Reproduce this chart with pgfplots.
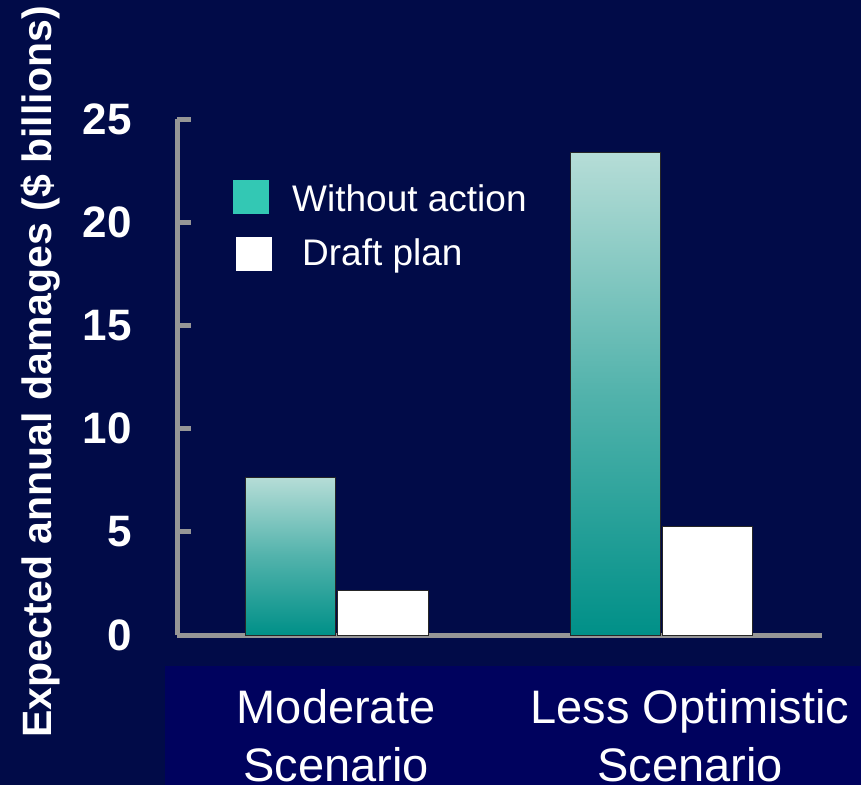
\documentclass[border=0pt]{standalone}
\usepackage{fontspec}
\setmainfont{Liberation Sans}
\usepackage{pgfplots}
\pgfplotsset{compat=1.18}
\definecolor{bgnavy}{RGB}{1,11,72}
\definecolor{bandnavy}{RGB}{0,2,94}
\definecolor{axgrey}{RGB}{150,150,150}
\definecolor{tealdark}{RGB}{0,144,136}
\definecolor{teallight}{RGB}{182,221,215}
\definecolor{legteal}{RGB}{51,200,180}
\begin{document}
\begin{tikzpicture}[x=1pt,y=1pt]
\fill[bgnavy] (0,0) rectangle (861,785);
\fill[bandnavy] (165,0) rectangle (861,119);
\begin{axis}[
  at={(177pt,150pt)}, anchor=south west,
  scale only axis, width=645pt, height=515.5pt,
  xmin=-0.4938, xmax=1.4969, ymin=0, ymax=25,
  axis x line=bottom, axis y line=left,
  axis line style={-, draw=axgrey, line width=5pt},
  xtick=\empty,
  ytick={0,5,10,15,20,25},
  tick align=inside,
  major tick length=14pt,
  major tick style={draw=axgrey, line width=5pt},
  /pgf/number format/assume math mode=true,
  yticklabel style={font=\fontsize{44}{50}\selectfont\bfseries, text=white, anchor=east, inner sep=0pt, xshift=-45pt},
  bar width=90pt,
  clip=false,
]
\addplot[ybar, bar shift=-46pt, draw=black!85, line width=1pt, top color=teallight, bottom color=tealdark, middle color=teallight!45!tealdark] coordinates {(0,7.66)};
\addplot[ybar, bar shift=-46pt, draw=black!85, line width=1pt, top color=teallight, bottom color=tealdark, middle color=teallight!45!tealdark] coordinates {(1,23.42)};
\addplot[ybar, bar shift=46pt, draw=black!85, line width=1pt, fill=white] coordinates {(0,2.18) (1,5.24)};
\end{axis}
% legend
\fill[legteal] (233,571) rectangle (269,605);
\node[anchor=base west, inner sep=0pt, text=white, font=\fontsize{37}{44}\selectfont] at (292,573) {Without action};
\fill[white] (236,514) rectangle (272,548);
\node[anchor=base west, inner sep=0pt, text=white, font=\fontsize{37}{44}\selectfont] at (302,519) {Draft plan};
% category labels
\node[anchor=base, inner sep=0pt, text=white, font=\fontsize{47}{54}\selectfont] at (336,62) {Moderate};
\node[anchor=base, inner sep=0pt, text=white, font=\fontsize{47}{54}\selectfont] at (336,4) {Scenario};
\node[anchor=base, inner sep=0pt, text=white, font=\fontsize{47}{54}\selectfont] at (690,62) {Less Optimistic};
\node[anchor=base, inner sep=0pt, text=white, font=\fontsize{47}{54}\selectfont] at (690,4) {Scenario};
% y label
\node[anchor=base, rotate=90, inner sep=0pt, text=white, font=\fontsize{41}{48}\selectfont\bfseries] at (51,413) {Expected annual damages (\$ billions)};
\pgfresetboundingbox
\path[use as bounding box] (0,0) rectangle (861,785);
\end{tikzpicture}
\end{document}
